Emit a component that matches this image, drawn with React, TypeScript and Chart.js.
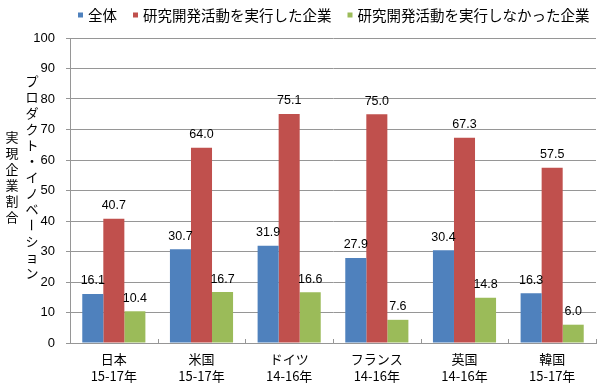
import React, { useEffect, useRef } from "react";
import { Chart, registerables } from "chart.js";

Chart.register(...registerables);

const categories: string[][] = [
  ["日本", "15-17年"],
  ["米国", "15-17年"],
  ["ドイツ", "14-16年"],
  ["フランス", "14-16年"],
  ["英国", "14-16年"],
  ["韓国", "15-17年"],
];
const seriesNames = ["全体", "研究開発活動を実行した企業", "研究開発活動を実行しなかった企業"];
const totalValues = [16.1, 30.7, 31.9, 27.9, 30.4, 16.3];
const rdValues = [40.7, 64.0, 75.1, 75.0, 67.3, 57.5];
const nonRdValues = [10.4, 16.7, 16.6, 7.6, 14.8, 6.0];
const seriesColors = ["#4F81BD", "#C0504D", "#9BBB59"];
const yTitleLines = ["プロダクト・イノベーション", "実現企業割合"];

const JP = '"Noto Sans CJK JP", "Noto Sans", sans-serif';
const NUM = '"Liberation Sans", Arial, sans-serif';
const GRID = "#969696";

const legendPlugin = {
  id: "customLegend",
  afterDraw(chart: any) {
    const ctx = chart.ctx;
    ctx.save();
    ctx.font = `14.5px ${JP}`;
    ctx.textBaseline = "middle";
    ctx.textAlign = "left";
    let x = 78;
    const y = 15;
    seriesNames.forEach((name, i) => {
      ctx.fillStyle = seriesColors[i];
      ctx.fillRect(x, y - 2.5, 5, 5);
      ctx.fillStyle = "#000";
      ctx.fillText(name, x + 10, y + 0.5);
      x += 10 + ctx.measureText(name).width + 16;
    });
    ctx.restore();
  },
};

const dataLabelPlugin = {
  id: "dataLabels",
  afterDatasetsDraw(chart: any) {
    const ctx = chart.ctx;
    ctx.save();
    ctx.font = `12.5px ${NUM}`;
    ctx.fillStyle = "#000";
    ctx.textAlign = "center";
    ctx.textBaseline = "alphabetic";
    chart.data.datasets.forEach((ds: any, di: number) => {
      const meta = chart.getDatasetMeta(di);
      meta.data.forEach((el: any, i: number) => {
        const v = ds.data[i] as number;
        ctx.fillText(v.toFixed(1), el.x, el.y - 9.5);
      });
    });
    ctx.restore();
  },
};

const xTickPlugin = {
  id: "xInsideTicks",
  afterDraw(chart: any) {
    const ctx = chart.ctx;
    const xs = chart.scales.x;
    const bottom = chart.chartArea.bottom;
    const n = categories.length;
    ctx.save();
    ctx.strokeStyle = GRID;
    ctx.lineWidth = 1;
    for (let i = 0; i <= n; i++) {
      let px: number;
      if (i === 0) px = xs.left;
      else if (i === n) px = xs.right;
      else px = (xs.getPixelForValue(i - 1) + xs.getPixelForValue(i)) / 2;
      px = Math.round(px) + 0.5;
      ctx.beginPath();
      ctx.moveTo(px, bottom);
      ctx.lineTo(px, bottom - 4);
      ctx.stroke();
    }
    ctx.restore();
  },
};

const yTitlePlugin = {
  id: "yTitleVertical",
  afterDraw(chart: any) {
    const ctx = chart.ctx;
    ctx.save();
    ctx.font = `13px ${JP}`;
    ctx.fillStyle = "#000";
    ctx.textAlign = "center";
    ctx.textBaseline = "middle";
    const centerY = 177;
    const step = 16;
    const colX = [32, 12];
    yTitleLines.forEach((line, li) => {
      const chars = Array.from(line);
      chars.forEach((ch, j) => {
        const cy = centerY + (j - (chars.length - 1) / 2) * step;
        if (ch === "ー") {
          ctx.save();
          ctx.translate(colX[li], cy);
          ctx.rotate(Math.PI / 2);
          ctx.fillText(ch, 0, 0);
          ctx.restore();
        } else {
          ctx.fillText(ch, colX[li], cy);
        }
      });
    });
    ctx.restore();
  },
};

export default function App() {
  const ref = useRef<HTMLCanvasElement | null>(null);
  useEffect(() => {
    if (!ref.current) return;
    const chart = new Chart(ref.current, {
      type: "bar",
      data: {
        labels: categories,
        datasets: [
          { label: seriesNames[0], data: totalValues, backgroundColor: seriesColors[0] },
          { label: seriesNames[1], data: rdValues, backgroundColor: seriesColors[1] },
          { label: seriesNames[2], data: nonRdValues, backgroundColor: seriesColors[2] },
        ],
      },
      options: {
        responsive: false,
        animation: false,
        layout: { padding: { top: 38, right: 4, left: 0, bottom: 0 } },
        datasets: { bar: { categoryPercentage: 0.72, barPercentage: 1.0 } },
        plugins: { legend: { display: false }, tooltip: { enabled: false } },
        scales: {
          x: {
            grid: { display: false, drawTicks: false },
            border: { color: GRID },
            ticks: {
              color: "#000",
              font: { family: JP, size: 13, lineHeight: 17 / 13 },
              padding: 8,
              maxRotation: 0,
              autoSkip: false,
            },
            afterFit: (s: any) => {
              s.height = 48;
            },
          },
          y: {
            min: 0,
            max: 100,
            ticks: {
              stepSize: 10,
              color: "#000",
              font: { family: NUM, size: 13 },
              padding: 11,
            },
            grid: { color: GRID, lineWidth: 1, tickLength: 4, drawTicks: true },
            border: { color: GRID },
            afterFit: (s: any) => {
              s.width = 70;
            },
          },
        },
      },
      plugins: [legendPlugin, dataLabelPlugin, xTickPlugin, yTitlePlugin],
    } as any);
    return () => chart.destroy();
  }, []);
  return (
    <div style={{ position: "absolute", left: 0, top: 0, width: 600, height: 391, background: "#fff" }}>
      <canvas ref={ref} width={600} height={391} style={{ display: "block" }} />
    </div>
  );
}
